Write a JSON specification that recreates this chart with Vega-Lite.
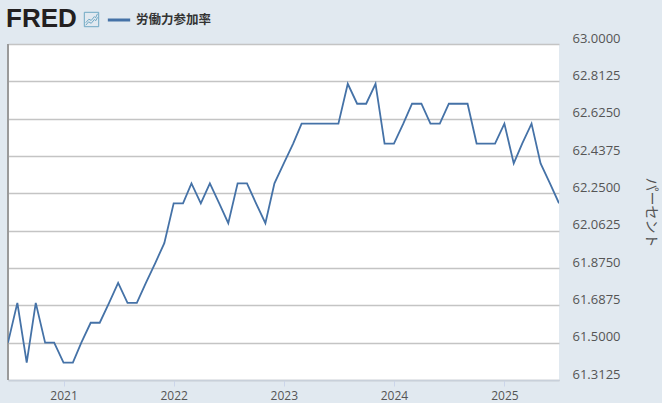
{
  "$schema": "https://vega.github.io/schema/vega-lite/v6.json",
  "width": 551,
  "height": 336,
  "autosize": {"type": "none"},
  "padding": {"left": 8, "top": 44, "right": 103, "bottom": 23},
  "background": "#e1e9f0",
  "data": {
    "values": [
      {"date": "2020-07-01", "rate": 61.5},
      {"date": "2020-08-01", "rate": 61.7},
      {"date": "2020-09-01", "rate": 61.4},
      {"date": "2020-10-01", "rate": 61.7},
      {"date": "2020-11-01", "rate": 61.5},
      {"date": "2020-12-01", "rate": 61.5},
      {"date": "2021-01-01", "rate": 61.4},
      {"date": "2021-02-01", "rate": 61.4},
      {"date": "2021-03-01", "rate": 61.5},
      {"date": "2021-04-01", "rate": 61.6},
      {"date": "2021-05-01", "rate": 61.6},
      {"date": "2021-06-01", "rate": 61.7},
      {"date": "2021-07-01", "rate": 61.8},
      {"date": "2021-08-01", "rate": 61.7},
      {"date": "2021-09-01", "rate": 61.7},
      {"date": "2021-10-01", "rate": 61.8},
      {"date": "2021-11-01", "rate": 61.9},
      {"date": "2021-12-01", "rate": 62.0},
      {"date": "2022-01-01", "rate": 62.2},
      {"date": "2022-02-01", "rate": 62.2},
      {"date": "2022-03-01", "rate": 62.3},
      {"date": "2022-04-01", "rate": 62.2},
      {"date": "2022-05-01", "rate": 62.3},
      {"date": "2022-06-01", "rate": 62.2},
      {"date": "2022-07-01", "rate": 62.1},
      {"date": "2022-08-01", "rate": 62.3},
      {"date": "2022-09-01", "rate": 62.3},
      {"date": "2022-10-01", "rate": 62.2},
      {"date": "2022-11-01", "rate": 62.1},
      {"date": "2022-12-01", "rate": 62.3},
      {"date": "2023-01-01", "rate": 62.4},
      {"date": "2023-02-01", "rate": 62.5},
      {"date": "2023-03-01", "rate": 62.6},
      {"date": "2023-04-01", "rate": 62.6},
      {"date": "2023-05-01", "rate": 62.6},
      {"date": "2023-06-01", "rate": 62.6},
      {"date": "2023-07-01", "rate": 62.6},
      {"date": "2023-08-01", "rate": 62.8},
      {"date": "2023-09-01", "rate": 62.7},
      {"date": "2023-10-01", "rate": 62.7},
      {"date": "2023-11-01", "rate": 62.8},
      {"date": "2023-12-01", "rate": 62.5},
      {"date": "2024-01-01", "rate": 62.5},
      {"date": "2024-02-01", "rate": 62.6},
      {"date": "2024-03-01", "rate": 62.7},
      {"date": "2024-04-01", "rate": 62.7},
      {"date": "2024-05-01", "rate": 62.6},
      {"date": "2024-06-01", "rate": 62.6},
      {"date": "2024-07-01", "rate": 62.7},
      {"date": "2024-08-01", "rate": 62.7},
      {"date": "2024-09-01", "rate": 62.7},
      {"date": "2024-10-01", "rate": 62.5},
      {"date": "2024-11-01", "rate": 62.5},
      {"date": "2024-12-01", "rate": 62.5},
      {"date": "2025-01-01", "rate": 62.6},
      {"date": "2025-02-01", "rate": 62.4},
      {"date": "2025-03-01", "rate": 62.5},
      {"date": "2025-04-01", "rate": 62.6},
      {"date": "2025-05-01", "rate": 62.4},
      {"date": "2025-06-01", "rate": 62.3},
      {"date": "2025-07-01", "rate": 62.2}
    ]
  },
  "encoding": {
    "x": {
      "field": "date",
      "type": "temporal",
      "scale": {"domain": ["2020-07-01", "2025-07-01"]},
      "axis": {
        "title": null,
        "format": "%Y",
        "tickCount": "year",
        "grid": false,
        "domainColor": "#c8d0da",
        "domainWidth": 1.5,
        "tickColor": "#ccd6eb",
        "tickSize": 6,
        "labelColor": "#555555",
        "labelFont": "Open Sans",
        "labelFontSize": 12,
        "labelPadding": 4
      }
    },
    "y": {
      "field": "rate",
      "type": "quantitative",
      "scale": {"domain": [61.3125, 63], "nice": false, "zero": false},
      "axis": {
        "orient": "right",
        "title": "パーセント",
        "titleAngle": 90,
        "titleFont": "Noto Sans CJK JP",
        "titleFontSize": 14,
        "titleFontWeight": "normal",
        "titleColor": "#555555",
        "titleX": 84,
        "titleY": 168,
        "values": [61.3125, 61.5, 61.6875, 61.875, 62.0625, 62.25, 62.4375, 62.625, 62.8125, 63],
        "format": ".4f",
        "ticks": false,
        "domain": false,
        "grid": true,
        "gridColor": "#c4c4c4",
        "gridWidth": 1.7,
        "labelColor": "#555555",
        "labelFont": "Open Sans",
        "labelFontSize": 13,
        "labelPadding": 13,
        "labelOffset": -6,
        "labelOverlap": false
      }
    }
  },
  "layer": [
    {
      "mark": {"type": "rule", "color": "#9a9a9a", "strokeWidth": 1.5},
      "encoding": {
        "x": {"datum": "2020-07-01", "type": "temporal"},
        "y": {}
      }
    },
    {
      "mark": {"type": "line", "strokeWidth": 1.8, "clip": true},
      "encoding": {
        "color": {
          "datum": "労働力参加率",
          "scale": {"range": ["#4572a7"]},
          "legend": {
            "title": null,
            "orient": "none",
            "legendX": 98,
            "legendY": -37,
            "symbolType": "stroke",
            "symbolSize": 500,
            "symbolStrokeWidth": 3,
            "labelFont": "Noto Sans CJK JP",
            "labelFontSize": 12.5,
            "labelFontWeight": "bold",
            "labelColor": "#333333",
            "labelOffset": 4
          }
        }
      }
    },
    {
      "mark": {"type": "point", "opacity": 0, "size": 324},
      "encoding": {
        "shape": {
          "datum": "icon",
          "scale": {"range": ["M-0.8,-0.8H0.8V0.8H-0.8ZM-0.64,0.35L-0.29,-0.03L-0.03,0.1L0.32,-0.32L0.45,-0.19L0.67,-0.64M-0.64,0.64L-0.32,0.26L-0.03,0.42L0.32,0L0.48,0.13L0.67,-0.24"]},
          "legend": {
            "title": "FRED",
            "titleOrient": "left",
            "titleFont": "Liberation Sans",
            "titleFontSize": 26,
            "titleFontWeight": "bold",
            "titleColor": "#231f20",
            "titlePadding": 5,
            "orient": "none",
            "legendX": -2,
            "legendY": -34,
            "symbolSize": 324,
            "symbolFillColor": "#ffffff",
            "symbolStrokeColor": "#6fa8c4",
            "symbolStrokeWidth": 1,
            "symbolOpacity": 1,
            "labelExpr": "''"
          }
        }
      }
    }
  ],
  "config": {
    "view": {"fill": "#ffffff", "stroke": null}
  }
}
